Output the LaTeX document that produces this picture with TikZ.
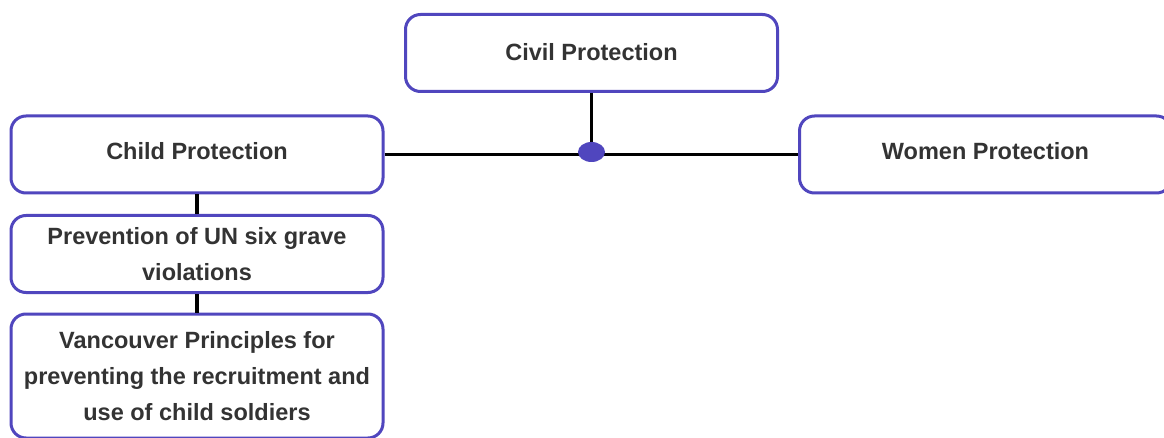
\documentclass[tikz,border=0pt]{standalone}
\usepackage{fontspec}
\setmainfont{Liberation Sans}
\usepackage{tikz}
\usetikzlibrary{
  positioning,
  shapes,
}
\definecolor{boxviolet}{RGB}{80, 70, 190}
\definecolor{textgrey}{RGB}{51, 51, 51}
\tikzstyle{topic} = [
  draw=boxviolet,
  line width=3pt,
  rounded corners=15pt,
  fill=white,
  minimum width=372pt,
  minimum height=77pt,
  align=center,
  font=\fontsize{23.5pt}{36pt}\selectfont\bfseries,
  text=textgrey,
]
\tikzstyle{raised} = [
  text depth=7pt,
]
\tikzstyle{link} = [
  line width=3.5pt,
  black,
]

\begin{document}
\begin{tikzpicture}[x=1pt, y=-1pt]

        \clip (0,0) rectangle (1164,438);
        \fill [white] (0,0) rectangle (1164,438);

        % top level
        \node [topic, text depth=3pt] (civil) at (591.5, 53) {Civil Protection};
        \node [topic, raised] (child) at (197, 154.5) {Child Protection};
        \node [topic, raised] (women) at (985.5, 154.5) {Women Protection};

        % child branch
        \node [topic] (grave) at (197, 254) {Prevention of UN six grave\\violations};
        \node [topic, minimum height=124pt] (vancouver) at (197, 376)
              {Vancouver Principles for\\preventing the recruitment and\\use of child soldiers};

        \coordinate (hub) at (591.5, 152);

        \draw [link] (child.east) -- (women.west);
        \draw [link] (civil.south) -- (hub);
        \draw [link] (child.south) -- (grave.north);
        \draw [link] (grave.south) -- (vancouver.north);

        \fill [boxviolet] (hub) ellipse (13.5pt and 10pt);
      \end{tikzpicture}
\end{document}
